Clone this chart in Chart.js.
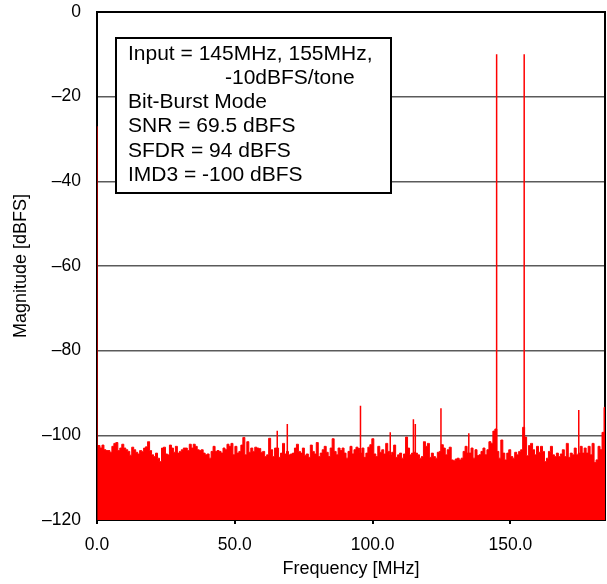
<!DOCTYPE html>
<html>
<head>
<meta charset="utf-8">
<script src="https://cdn.jsdelivr.net/npm/chart.js@4.4.1/dist/chart.umd.min.js"></script>
<style>
    body { margin: 0; background: #fff; }
    canvas { display: block; }
</style>
</head>
<body>
<canvas id="fft" width="607" height="584"></canvas>
<script>
// two-tone FFT, bins every 0.72 MHz up to fs/2 = 184.32 MHz
const binStep = 0.72;
const freqMax = 184.32;

// noise floor top (dBFS)
const noiseDb = [
    -102.6, -102.4, -103.0, -102.3, -103.4, -103.6, -103.6, -104.0, -102.6, -101.9,
    -101.7, -103.6, -103.0, -102.1, -103.0, -103.4, -103.8, -104.7, -102.8, -103.4,
    -104.0, -104.4, -103.6, -103.8, -103.0, -102.7, -101.5, -103.6, -104.6, -105.0,
    -104.2, -105.4, -106.2, -103.0, -102.8, -104.4, -104.6, -102.3, -103.0, -104.0,
    -102.6, -104.2, -103.8, -103.4, -103.0, -103.0, -103.6, -102.1, -103.0, -102.1,
    -102.6, -103.4,
    -103.6, -103.4, -104.2, -104.6, -104.4, -105.4, -103.8, -102.6, -103.8, -103.6,
    -103.8, -104.2, -103.0, -103.4, -102.1, -102.6, -101.9, -104.6, -102.6, -104.2,
    -103.8, -102.3, -100.5, -104.6, -101.5, -104.0, -103.0, -103.8, -102.8, -103.0,
    -103.1, -104.0, -103.8, -105.0, -104.6, -100.7, -103.4, -105.0, -103.0, -103.0,
    -105.2, -104.2, -101.9, -104.4, -103.8, -104.6, -104.4, -104.2, -103.0, -102.1,
    -103.8, -104.2,
    -103.0, -104.7, -104.4, -105.2, -102.3, -103.8, -104.4, -101.7, -105.0, -104.2,
    -103.4, -102.6, -104.0, -105.0, -103.0, -100.8, -103.8, -104.6, -103.0, -103.6,
    -103.0, -104.2, -105.4, -103.8, -102.6, -104.4, -103.4, -102.8, -103.1, -104.2,
    -103.0, -105.2, -104.2, -102.8, -102.2, -100.8, -104.4, -105.0, -102.6, -104.0,
    -103.4, -104.4, -101.9, -103.8, -104.6, -104.0, -102.3, -105.2, -104.6, -104.2,
    -105.4, -104.4,
    -100.4, -103.0, -104.6, -104.2, -104.0, -104.2, -104.6, -105.4, -105.0, -101.5,
    -102.6, -101.9, -105.2, -104.2, -105.0, -105.4, -104.0, -103.8, -102.2, -103.0,
    -104.6, -103.4, -102.8, -105.8, -106.0, -105.6, -105.4, -105.8, -105.4, -103.8,
    -102.6, -104.2, -104.2, -103.0, -105.4, -103.4, -104.8, -104.6, -103.8, -103.0,
    -104.6, -103.4, -101.5, -101.9, -99.0, -98.5, -103.8, -105.4, -101.1, -104.2,
    -105.8, -104.2,
    -103.4, -105.0, -105.4, -104.0, -104.6, -103.8, -103.4, -98.1, -100.4, -104.8,
    -102.4, -101.9, -103.4, -104.6, -102.6, -104.0, -102.6, -103.8, -106.2, -105.4,
    -103.8, -102.6, -104.6, -105.0, -104.2, -105.0, -104.4, -103.4, -105.0, -101.9,
    -105.2, -104.2, -104.6, -103.0, -104.6, -104.2, -102.6, -104.2, -103.0, -104.2,
    -102.6, -104.6, -101.9, -106.4, -105.8, -102.6, -103.4, -99.3, -93.4
];

// tones and spurs
const spurFreqs = [65.4, 69.05, 95.6, 106.4, 114.8, 115.5, 124.8, 134.9, 145.0, 155.0, 174.8];
const spurDb = [-98.9, -97.3, -93.0, -99.3, -96.2, -97.3, -93.6, -99.5, -10, -10, -94.0];

// DC bin
const dcFreqs = [0];
const dcDb = [-27];

const xTickValues = [0, 50, 100, 150];
const yTickValues = [0, -20, -40, -60, -80, -100, -120];

const annotationLines = [
    'Input = 145MHz, 155MHz,',
    '-10dBFS/tone',
    'Bit-Burst Mode',
    'SNR = 69.5 dBFS',
    'SFDR = 94 dBFS',
    'IMD3 = -100 dBFS'
];

const fontFamily = '"Liberation Sans", Arial, sans-serif';

// build point lists for the library
const noisePoints = noiseDb.map(function (v, i) {
    return {x: Math.min(i * binStep, freqMax), y: v};
});

function stems(freqs, vals) {
    let pts = [];
    freqs.forEach(function (f, i) {
        pts.push({x: f, y: -120});
        pts.push({x: f, y: vals[i]});
        pts.push({x: f, y: null});
    });
    return pts;
}

const framePlugin = {
    id: 'frame',
    beforeDatasetsDraw: function (chart) {
        const a = chart.chartArea, ctx = chart.ctx;
        ctx.save();
        ctx.strokeStyle = '#000';
        ctx.lineWidth = 2;
        ctx.strokeRect(a.left, a.top, a.right - a.left, a.bottom - a.top);
        ctx.restore();
    },
    afterDatasetsDraw: function (chart) {
        const ctx = chart.ctx;
        ctx.save();
        ctx.fillStyle = '#fff';
        ctx.fillRect(116, 38, 275, 155);
        ctx.strokeStyle = '#000';
        ctx.lineWidth = 2;
        ctx.strokeRect(116, 38, 275, 155);
        ctx.fillStyle = '#000';
        ctx.font = '21px ' + fontFamily;
        ctx.textBaseline = 'alphabetic';
        annotationLines.forEach(function (t, i) {
            const x = (i === 1) ? 225 : 128;
            ctx.fillText(t, x, 59.5 + i * 24.3);
        });
        ctx.restore();
    }
};

new Chart(document.getElementById('fft'), {
    type: 'line',
    data: {
        datasets: [
            {
                data: stems(dcFreqs, dcDb),
                borderColor: '#960000',
                borderWidth: 2,
                pointRadius: 0,
                fill: false,
                spanGaps: false
            },
            {
                data: stems(spurFreqs, spurDb),
                borderColor: '#ff0000',
                borderWidth: 1.5,
                pointRadius: 0,
                fill: false,
                spanGaps: false
            },
            {
                data: noisePoints,
                borderColor: '#ff0000',
                backgroundColor: '#ff0000',
                borderWidth: 1,
                pointRadius: 0,
                stepped: 'middle',
                fill: 'start'
            }
        ]
    },
    options: {
        responsive: false,
        animation: false,
        devicePixelRatio: 1,
        layout: {padding: {top: 12, right: 2, left: 0, bottom: 0}},
        plugins: {
            legend: {display: false},
            tooltip: {enabled: false}
        },
        scales: {
            x: {
                type: 'linear',
                min: 0,
                max: freqMax,
                afterBuildTicks: function (scale) {
                    scale.ticks = xTickValues.map(function (v) { return {value: v}; });
                },
                afterFit: function (scale) {
                    scale.height = 64;
                    scale.paddingLeft = 0;
                    scale.paddingRight = 0;
                },
                ticks: {
                    autoSkip: false,
                    maxRotation: 0,
                    padding: 11,
                    color: '#000',
                    font: {family: fontFamily, size: 17.5},
                    callback: function (v) { return Number(v).toFixed(1); }
                },
                grid: {drawOnChartArea: false, tickLength: 4, color: '#000', lineWidth: 2},
                border: {display: false},
                title: {
                    display: true,
                    text: 'Frequency [MHz]',
                    color: '#000',
                    font: {family: fontFamily, size: 18},
                    padding: {top: 0, bottom: 4}
                }
            },
            y: {
                min: -120,
                max: 0,
                afterBuildTicks: function (scale) {
                    scale.ticks = yTickValues.map(function (v) { return {value: v}; });
                },
                afterFit: function (scale) {
                    scale.width = 97;
                    scale.paddingTop = 0;
                    scale.paddingBottom = 0;
                },
                ticks: {
                    padding: 16,
                    color: '#000',
                    font: {family: fontFamily, size: 17.5},
                    callback: function (v) { return v < 0 ? '\u2013' + (-v) : String(v); }
                },
                grid: {
                    drawTicks: false,
                    lineWidth: 1.5,
                    color: function (c) {
                        return (c.tick && (c.tick.value === 0 || c.tick.value === -120)) ? 'rgba(0,0,0,0)' : '#5a5a5a';
                    }
                },
                border: {display: false},
                title: {
                    display: true,
                    text: 'Magnitude [dBFS]',
                    color: '#000',
                    font: {family: fontFamily, size: 18},
                    padding: {top: 10, bottom: 0}
                }
            }
        }
    },
    plugins: [framePlugin]
});
</script>
</body>
</html>
